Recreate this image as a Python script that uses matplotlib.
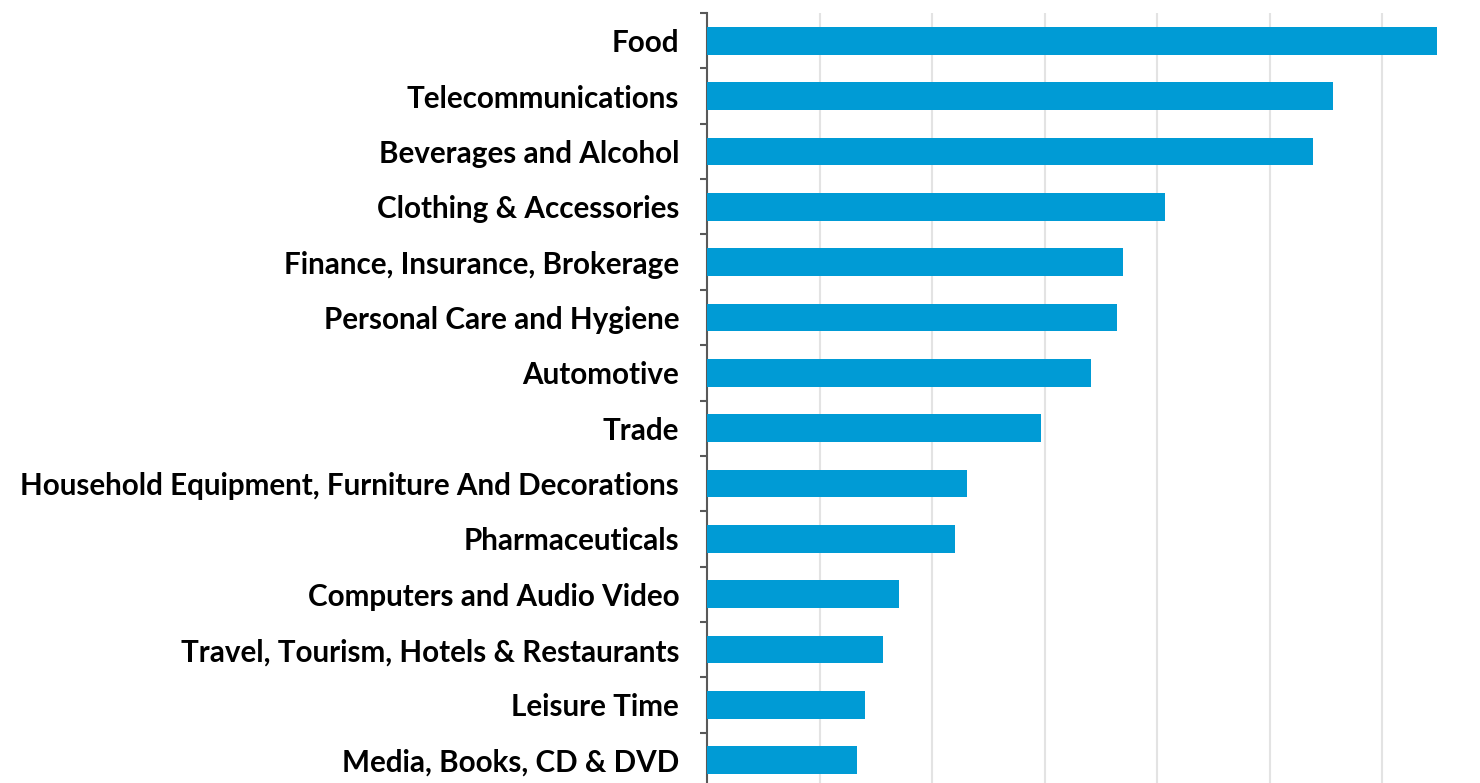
import matplotlib.pyplot as plt
import numpy as np

categories = [
    "Food",
    "Telecommunications",
    "Beverages and Alcohol",
    "Clothing & Accessories",
    "Finance, Insurance, Brokerage",
    "Personal Care and Hygiene",
    "Automotive",
    "Trade",
    "Household Equipment, Furniture And Decorations",
    "Pharmaceuticals",
    "Computers and Audio Video",
    "Travel, Tourism, Hotels & Restaurants",
    "Leisure Time",
    "Media, Books, CD & DVD",
]
values = [6.49, 5.56, 5.39, 4.07, 3.70, 3.64, 3.41, 2.97, 2.31, 2.20, 1.71, 1.56, 1.40, 1.33]

bar_color = "#009BD5"

fig = plt.figure(figsize=(14.8, 7.83), dpi=100)
ax = fig.add_axes([707 / 1480, -5 / 783, 773 / 1480, 775 / 783])

y = np.arange(len(categories))
ax.barh(y, values, height=0.5, color=bar_color, zorder=3)

ax.set_ylim(len(categories) - 0.5, -0.5)
ax.set_xlim(0, 773 / 112.5)
ax.set_xticks(np.arange(1, 7))
ax.tick_params(axis="x", length=0, labelbottom=False)
ax.grid(axis="x", color="#e3e3e3", linewidth=1.5, zorder=0)

# category labels, bold, right-aligned against the axis
ax.set_yticks(y)
ax.set_yticklabels(categories, fontsize=21.3, fontweight="bold", family=["Lato", "DejaVu Sans"])
ax.tick_params(axis="y", which="major", length=0, pad=20)
ax.set_yticks(np.arange(-0.5, len(categories)), minor=True)
ax.tick_params(axis="y", which="minor", length=5, width=1.5, color="#595959")

for side in ["top", "right", "bottom"]:
    ax.spines[side].set_visible(False)
ax.spines["left"].set_color("#595959")
ax.spines["left"].set_linewidth(1.5)

fig.savefig("out.png", dpi=100)
